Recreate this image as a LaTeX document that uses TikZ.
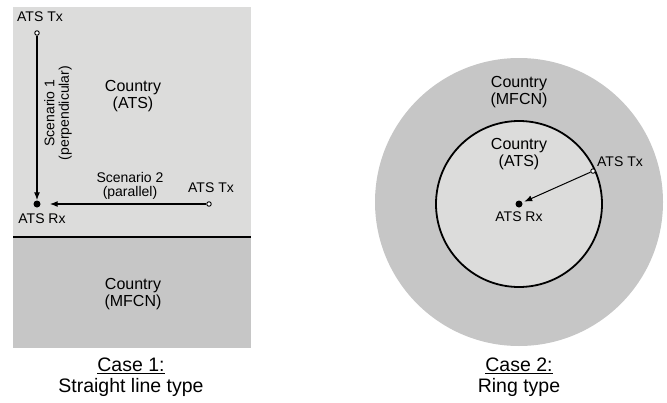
\documentclass[tikz,border=0pt]{standalone}
\usepackage{fontspec}
\setmainfont{Liberation Sans}
\usetikzlibrary{arrows.meta,calc}

\definecolor{atsgray}{HTML}{DCDCDB}
\definecolor{mfcngray}{HTML}{C6C6C6}

\tikzset{
  small/.style={font=\fontsize{14}{14.5}\selectfont, align=center, inner sep=0pt},
  country/.style={font=\fontsize{16}{17.5}\selectfont, align=center, inner sep=0pt},
  caption/.style={font=\fontsize{19.5}{21}\selectfont, align=center, inner sep=0pt},
  tx/.style={circle, draw, fill=white, line width=0.9pt, minimum size=4.5pt, inner sep=0pt},
  rx/.style={circle, fill=black, minimum size=7pt, inner sep=0pt},
  link/.style={-{Latex[length=8pt,width=6pt]}, line width=1.3pt},
}

\begin{document}
\begin{tikzpicture}[x=1pt,y=-1pt]
  \useasboundingbox (0,0) rectangle (667,402);
  % case 1: straight line
  \fill[atsgray](13, 7) rectangle (251, 237);
  \fill[mfcngray](13, 237) rectangle (251, 348);
  \draw[line width=2.6pt](13, 237) -- (251, 237); % border
  \node[country] (atsA) at (133, 96) {Country\\(ATS)};
  \node[country] (mfcnA) at (133, 294) {Country\\(MFCN)};
  % transmitters and receiver
  \node[tx] (txA) at (37, 33) {};
  \node[tx] (txB) at (209, 204) {};
  \node[rx] (rxA) at (37, 204) {};
  \node[small] (txAlbl) at (40, 17) {ATS Tx};
  \node[small] (txBlbl) at (211, 188) {ATS Tx};
  \node[small] (rxAlbl) at (42, 219) {ATS Rx};
  % scenario 1 (perpendicular)
  \draw[link](txA) -- (rxA);
  \node[small, rotate=90] (scnA) at (58, 113) {Scenario 1\\(perpendicular)};
  % scenario 2 (parallel)
  \draw[link, shorten >=9pt](txB) -- (rxA);
  \node[small] (scnB) at (130, 186) {Scenario 2\\(parallel)};
  \node[caption] (caseA) at (131, 377) {\underline{Case 1:}\\Straight line type};

  % case 2: ring
  \fill[mfcngray](519, 202) circle[radius=144];
  \draw[fill=atsgray, line width=1.8pt](519, 204) circle[radius=83];
  \node[country] (mfcnB) at (519, 92) {Country\\(MFCN)};
  \node[country] (atsB) at (519, 154) {Country\\(ATS)};
  \node[rx] (rxB) at (519, 204) {};
  \node[tx] (txC) at ($(519, 204)+(-24:81)$) {};
  \node[small] (txClbl) at (620, 162) {ATS Tx};
  \node[small] (rxBlbl) at (519, 217) {ATS Rx};
  \draw[link, line width=1pt, shorten >=2pt](txC) -- (rxB);
  \node[caption] (caseB) at (519, 377) {\underline{Case 2:}\\Ring type};
\end{tikzpicture}
\end{document}
